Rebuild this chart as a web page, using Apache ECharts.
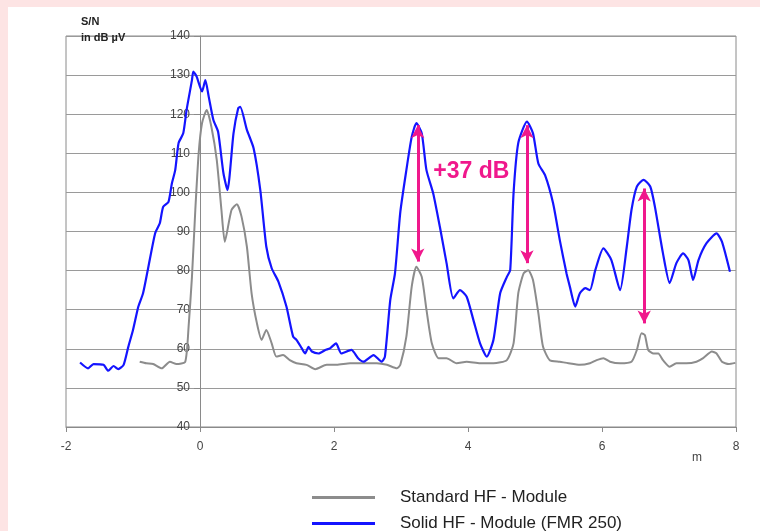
<!DOCTYPE html>
<html>
<head>
<meta charset="utf-8">
<script src="https://cdn.jsdelivr.net/npm/echarts@6/dist/echarts.min.js"></script>
<style>
  html, body { margin: 0; padding: 0; background: #fde4e4; }
  #panel { position: absolute; left: 8px; top: 7px; width: 752px; height: 524px; background: #fff; }
  #chart { position: absolute; left: -8px; top: -7px; width: 760px; height: 531px; }
</style>
</head>
<body>
<div id="panel"><div id="chart"></div></div>
<script>
// x in m, y in dB µV
const standardHF = [
  [-0.90, 56.7], [-0.80, 56.3], [-0.70, 56.1], [-0.57, 55.0], [-0.45, 56.7], [-0.35, 56.1],
  [-0.22, 56.7], [-0.17, 65.7], [-0.12, 78.4], [-0.07, 95.5], [-0.02, 110.0], [0.03, 117.7],
  [0.10, 121.1], [0.17, 116.8], [0.25, 108.3], [0.32, 95.5], [0.37, 87.4], [0.47, 95.5],
  [0.55, 97.0], [0.62, 93.8], [0.70, 86.1], [0.77, 74.2], [0.85, 66.5], [0.92, 62.3],
  [0.99, 64.8], [1.07, 61.4], [1.14, 58.0], [1.24, 58.4], [1.34, 57.1], [1.44, 56.3],
  [1.59, 55.9], [1.72, 54.8], [1.89, 55.9], [2.04, 55.9], [2.24, 56.3], [2.44, 56.3],
  [2.64, 56.3], [2.79, 55.9], [2.94, 55.0], [2.99, 55.9], [3.08, 63.1], [3.16, 75.9],
  [3.23, 81.0], [3.31, 78.4], [3.38, 70.0], [3.46, 61.4], [3.56, 57.6], [3.68, 57.6],
  [3.83, 56.3], [3.98, 56.7], [4.18, 56.3], [4.38, 56.3], [4.58, 57.1], [4.68, 61.4],
  [4.75, 74.2], [4.83, 79.3], [4.90, 80.1], [4.97, 77.6], [5.05, 69.1], [5.12, 60.5],
  [5.22, 57.1], [5.37, 56.7], [5.50, 56.3], [5.67, 55.9], [5.82, 56.3], [5.92, 57.1],
  [6.02, 57.6], [6.12, 56.7], [6.27, 56.3], [6.44, 56.7], [6.52, 59.7], [6.59, 64.0],
  [6.64, 63.5], [6.69, 59.7], [6.77, 58.8], [6.84, 58.8], [6.91, 57.1], [7.01, 55.4],
  [7.11, 56.3], [7.26, 56.3], [7.41, 56.7], [7.51, 57.6], [7.64, 59.3], [7.71, 58.8],
  [7.79, 56.7], [7.89, 56.1], [7.99, 56.4]
];

const solidHF = [
  [-1.79, 56.5], [-1.67, 55.0], [-1.59, 56.1], [-1.44, 55.9], [-1.37, 54.4], [-1.29, 55.6],
  [-1.22, 54.8], [-1.14, 55.9], [-1.07, 60.5], [-1.00, 64.8], [-0.92, 70.8], [-0.85, 74.2],
  [-0.77, 81.0], [-0.67, 89.5], [-0.60, 92.1], [-0.55, 96.3], [-0.47, 97.6], [-0.42, 102.3],
  [-0.37, 105.7], [-0.32, 112.6], [-0.25, 115.1], [-0.20, 121.1], [-0.12, 128.7], [-0.10, 130.9],
  [-0.05, 129.6], [0.03, 125.8], [0.08, 128.7], [0.13, 124.5], [0.20, 118.5], [0.27, 115.5],
  [0.35, 104.9], [0.41, 100.6], [0.50, 115.1], [0.57, 121.5], [0.60, 121.9], [0.70, 116.0],
  [0.80, 111.3], [0.90, 100.6], [0.99, 86.1], [1.07, 80.6], [1.17, 77.2], [1.29, 70.8],
  [1.39, 63.1], [1.44, 62.3], [1.52, 60.1], [1.57, 58.8], [1.62, 60.5], [1.67, 59.3],
  [1.77, 58.8], [1.87, 59.7], [1.94, 60.1], [2.03, 61.4], [2.11, 58.8], [2.26, 59.7],
  [2.36, 57.6], [2.44, 56.7], [2.59, 58.4], [2.71, 56.7], [2.76, 58.0], [2.84, 72.5],
  [2.91, 79.3], [2.99, 95.0], [3.08, 105.7], [3.16, 114.2], [3.23, 117.7], [3.31, 115.1],
  [3.38, 105.7], [3.48, 99.8], [3.58, 91.2], [3.68, 81.9], [3.78, 72.9], [3.88, 75.0],
  [3.98, 73.3], [4.08, 67.4], [4.18, 61.4], [4.28, 58.0], [4.38, 62.3], [4.48, 74.2],
  [4.58, 78.4], [4.63, 80.1], [4.68, 99.8], [4.75, 112.6], [4.88, 118.1], [4.97, 115.1],
  [5.05, 107.4], [5.15, 104.4], [5.27, 97.2], [5.37, 87.8], [5.47, 79.3], [5.52, 75.9],
  [5.60, 70.8], [5.67, 74.2], [5.75, 75.5], [5.82, 75.0], [5.90, 80.1], [6.02, 85.7],
  [6.14, 82.7], [6.27, 75.0], [6.37, 86.1], [6.44, 95.5], [6.52, 101.5], [6.62, 103.2],
  [6.72, 101.5], [6.79, 96.3], [6.91, 84.4], [7.01, 76.8], [7.11, 81.9], [7.21, 84.4],
  [7.29, 82.7], [7.36, 77.6], [7.44, 82.7], [7.56, 87.0], [7.71, 89.5], [7.79, 87.4],
  [7.91, 79.7]
];

// double arrows: [x, low, high]
const gainArrows = [[3.25, 82.3, 117.2], [4.88, 81.9, 117.2], [6.63, 66.5, 101.0]];
const gainLabel = [4.05, 105.3, '+37 dB'];
const seriesNames = ['Standard HF - Module', 'Solid HF - Module (FMR 250)'];

const chart = echarts.init(document.getElementById('chart'));
const axisFont = { fontFamily: 'Liberation Sans', fontSize: 12, color: '#444' };
const legendText = { fontFamily: 'Liberation Sans', fontSize: 17, color: '#222', padding: [0, 0, 0, 20] };
const PINK = '#f0188c';

// y axis crosses at x = 0, i.e. 2/10 of the plot width from the left edge
const gridLeft = 66, gridRight = 24;
const yAxisShift = (760 - gridLeft - gridRight) * 0.2;

chart.setOption({
  animation: false,
  backgroundColor: 'transparent',
  title: {
    text: 'S/N\nin dB µV',
    left: 76, top: 9,
    textStyle: { fontFamily: 'Liberation Sans', fontSize: 11, fontWeight: 'bold', color: '#222', lineHeight: 16 }
  },
  grid: { left: gridLeft, right: gridRight, top: 36, bottom: 104, show: true, borderColor: '#8a8a8a', borderWidth: 1 },
  legend: [
    { data: [seriesNames[0]], left: 307, top: 484, itemWidth: 63, itemHeight: 3, icon: 'rect', textStyle: legendText },
    { data: [seriesNames[1]], left: 307, top: 510, itemWidth: 63, itemHeight: 3, icon: 'rect', textStyle: legendText }
  ],
  xAxis: {
    type: 'value', min: -2, max: 8, interval: 2,
    axisLine: { onZero: false, lineStyle: { color: '#8a8a8a' } },
    axisTick: { show: true, length: 5, lineStyle: { color: '#8a8a8a' } },
    axisLabel: Object.assign({ margin: 14 }, axisFont),
    splitLine: { show: false }
  },
  yAxis: {
    type: 'value', min: 40, max: 140, interval: 10,
    position: 'left', offset: -yAxisShift,
    axisLine: { show: true, onZero: false, lineStyle: { color: '#8a8a8a' } },
    axisTick: { show: true, length: 6, lineStyle: { color: '#8a8a8a' } },
    axisLabel: Object.assign({ margin: 10 }, axisFont),
    splitLine: { show: true, lineStyle: { color: '#9a9a9a', width: 1 } }
  },
  graphic: [{
    type: 'text', left: 692, top: 452,
    style: { text: 'm', fontFamily: 'Liberation Sans', fontSize: 12, fill: '#444' }
  }],
  series: [
    {
      name: seriesNames[0], type: 'line', data: standardHF,
      showSymbol: false, symbol: 'none', smooth: 0.2,
      lineStyle: { color: '#8c8c8c', width: 2 }, itemStyle: { color: '#8c8c8c' }
    },
    {
      name: seriesNames[1], type: 'line', data: solidHF,
      showSymbol: false, symbol: 'none', smooth: 0.2,
      lineStyle: { color: '#1414ff', width: 2.2 }, itemStyle: { color: '#1414ff' },
      markLine: {
        silent: true,
        symbol: ['arrow', 'arrow'], symbolSize: [10, 13],
        lineStyle: { color: PINK, width: 3, type: 'solid', opacity: 1 },
        label: { show: false },
        data: gainArrows.map(a => [{ coord: [a[0], a[1]] }, { coord: [a[0], a[2]] }])
      },
      markPoint: {
        silent: true,
        symbol: 'circle', symbolSize: 0,
        label: {
          show: true, position: 'inside', formatter: gainLabel[2],
          fontFamily: 'Liberation Sans', fontSize: 23, fontWeight: 'bold', color: PINK
        },
        data: [{ coord: [gainLabel[0], gainLabel[1]] }]
      }
    }
  ]
});
</script>
</body>
</html>
